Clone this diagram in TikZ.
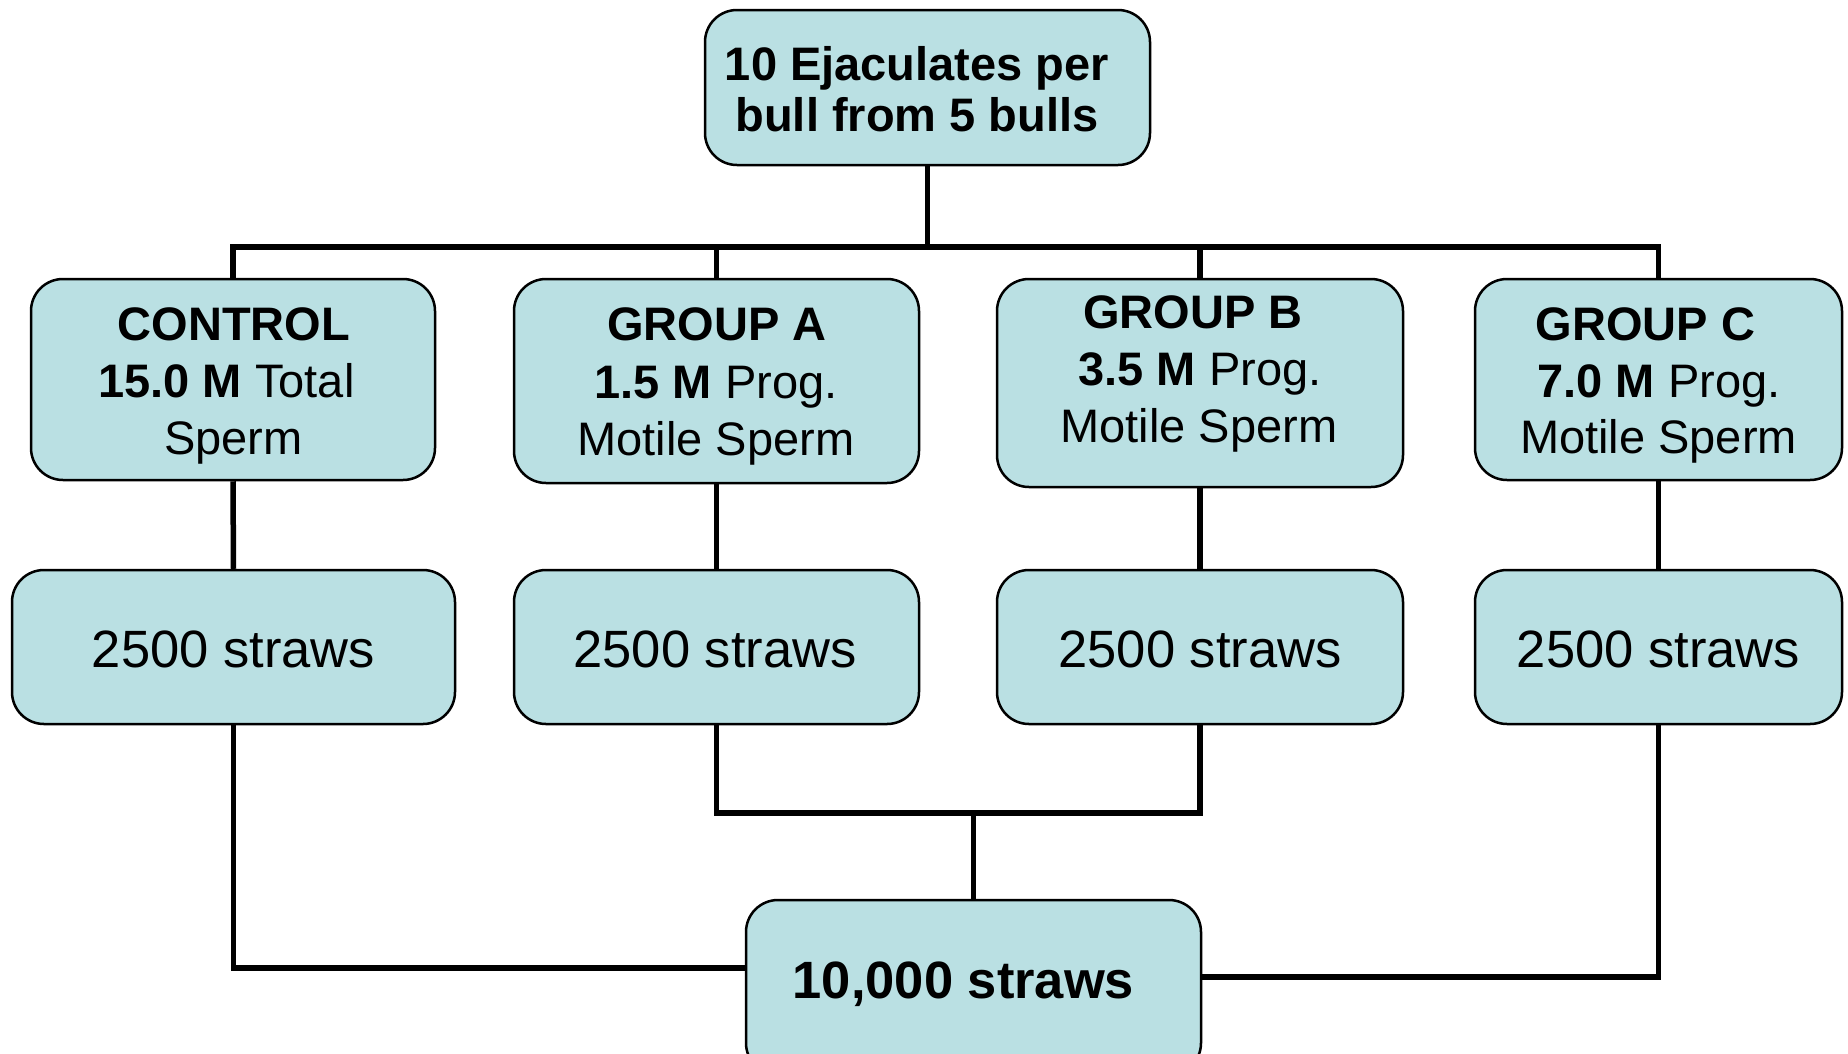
\documentclass[tikz,border=0pt]{standalone}
\usepackage{fontspec}
\setmainfont{Liberation Sans}
\usetikzlibrary{backgrounds}
\definecolor{boxfill}{HTML}{BAE0E3}
\begin{document}
\begin{tikzpicture}[x=1pt,y=-1pt,
  box/.style={draw=black, line width=2.5pt, fill=boxfill, rounded corners=32pt, rectangle, inner sep=0pt},
  wire/.style={draw=black, line width=5.5pt},
  lbl/.style={anchor=base, inner sep=0pt, font=\fontsize{47}{57}\selectfont},
  lblbig/.style={anchor=base, inner sep=0pt, font=\fontsize{52.5}{60}\selectfont}]
\useasboundingbox (0,0) rectangle (1848,1053);
% boxes
\node[box, minimum width=445pt, minimum height=155pt] (top) at (927.5,87.5) {};
\node[box, minimum width=404pt, minimum height=201pt] (ctrl) at (233,379.5) {};
\node[box, minimum width=405pt, minimum height=204pt] (grpA) at (716.5,381) {};
\node[box, minimum width=406pt, minimum height=208pt] (grpB) at (1200,383) {};
\node[box, minimum width=367pt, minimum height=201pt] (grpC) at (1658.5,379.5) {};
\node[box, minimum width=443pt, minimum height=154pt] (sCtrl) at (233.5,647) {};
\node[box, minimum width=405pt, minimum height=154pt] (sA) at (716.5,647) {};
\node[box, minimum width=406pt, minimum height=154pt] (sB) at (1200,647) {};
\node[box, minimum width=367pt, minimum height=154pt] (sC) at (1658.5,647) {};
\node[box, minimum width=455pt, minimum height=175pt] (total) at (973.5,987.5) {};
% connector helper coordinates
\coordinate (bus) at (0,247);
\coordinate (join) at (973.5,813);
\coordinate (jl) at (0,968);
\coordinate (jr) at (0,977);
% connectors (behind boxes)
\begin{scope}[on background layer]
\draw[wire] (top.south) -- (top.south |- bus);
\draw[wire] (ctrl.north) -- (ctrl.north |- bus) -- (grpC.north |- bus) -- (grpC.north);
\draw[wire] (grpA.north) -- (grpA.north |- bus);
\draw[wire] (grpB.north) -- (grpB.north |- bus);
\draw[wire] (ctrl.south) -- (sCtrl.north);
\draw[wire] (grpA.south) -- (grpA.south |- sA.north);
\draw[wire] (grpB.south) -- (grpB.south |- sB.north);
\draw[wire] (grpC.south) -- (grpC.south |- sC.north);
\draw[wire] (sA.south) -- (sA.south |- join) -- (sB.south |- join) -- (sB.south);
\draw[wire] (join) -- (total.north);
\draw[wire] (sCtrl.south) -- (sCtrl.south |- jl) -- (total.west |- jl);
\draw[wire] (sC.south) -- (sC.south |- jr) -- (total.east |- jr);
\end{scope}
% texts
\node[lbl] (t1) at (917,80) {\textbf{10 Ejaculates per}};
\node[lbl] (t2) at (917,131) {\textbf{bull from 5 bulls}};
\node[lbl] (c1) at (234,340) {\textbf{CONTROL}};
\node[lbl] (c2) at (226.5,397) {\textbf{15.0 M} Total};
\node[lbl] (c3) at (233.5,454) {Sperm};
\node[lbl] (a1) at (717,340) {\textbf{GROUP A}};
\node[lbl] (a2) at (716,398) {\textbf{1.5 M} Prog.};
\node[lbl] (a3) at (716,455) {Motile Sperm};
\node[lbl] (b1) at (1193,328) {\textbf{GROUP B}};
\node[lbl] (b2) at (1200,385) {\textbf{3.5 M} Prog.};
\node[lbl] (b3) at (1199,442) {Motile Sperm};
\node[lbl] (g1) at (1645.5,340) {\textbf{GROUP C}};
\node[lbl] (g2) at (1659,397) {\textbf{7.0 M} Prog.};
\node[lbl] (g3) at (1658.5,453) {Motile Sperm};
\node[lblbig] (s1) at (233.5,667) {2500 straws};
\node[lblbig] (s2) at (715,667) {2500 straws};
\node[lblbig] (s3) at (1200,667) {2500 straws};
\node[lblbig] (s4) at (1658.5,667) {2500 straws};
\node[lblbig] (tt) at (963.5,998) {\textbf{10,000 straws}};
\end{tikzpicture}
\end{document}
